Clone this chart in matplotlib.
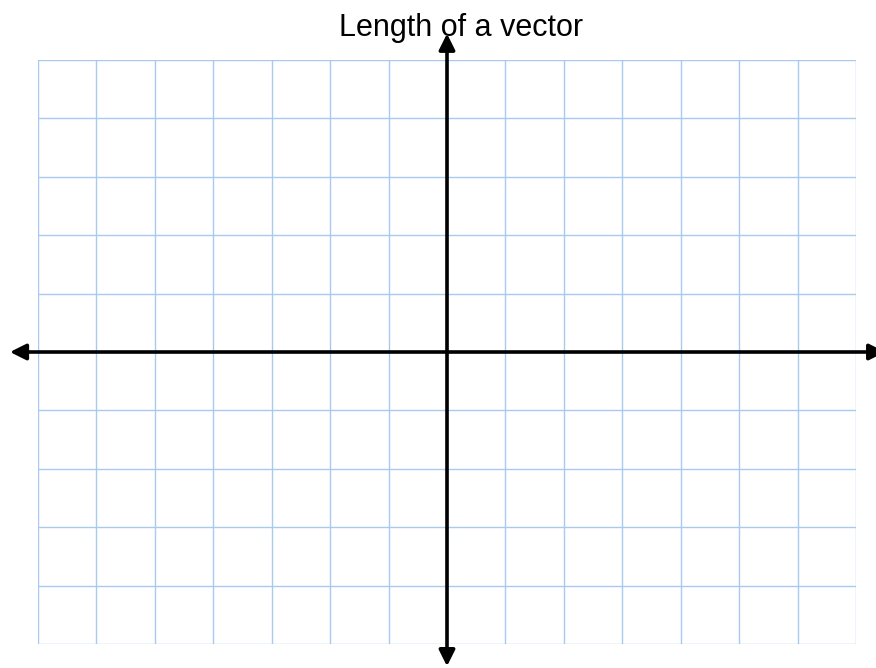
import numpy as np
import matplotlib.pyplot as plt

# grid extents (units)
x_grid = np.arange(-7, 8)
y_grid = np.arange(-5, 6)
# axis arrow extents
x_axis = [-7.48, 7.5]
y_axis = [-5.38, 5.45]
title = 'Length of a vector'

plt.rcParams['font.family'] = ['Liberation Sans', 'DejaVu Sans']

W, H = 876, 668
fig = plt.figure(figsize=(W / 100, H / 100), dpi=100)
ax = fig.add_axes([38 / W, (H - 644) / H, (856 - 38) / W, (644 - 60) / H])
ax.set_xlim(x_grid[0], x_grid[-1])
ax.set_ylim(y_grid[0], y_grid[-1])
ax.axis('off')

grid_col = '#a9c9f0'
for x in x_grid:
    ax.plot([x, x], [y_grid[0], y_grid[-1]], color=grid_col, lw=1, zorder=1)
for y in y_grid:
    ax.plot([x_grid[0], x_grid[-1]], [y, y], color=grid_col, lw=1, zorder=1)

arrow = dict(arrowstyle='<|-|>', lw=2.6, color='black', mutation_scale=24,
             shrinkA=0, shrinkB=0)
ax.annotate('', xy=(x_axis[0], 0), xytext=(x_axis[1], 0), arrowprops=arrow,
            annotation_clip=False, zorder=3)
ax.annotate('', xy=(0, y_axis[0]), xytext=(0, y_axis[1]), arrowprops=arrow,
            annotation_clip=False, zorder=3)

fig.text(461 / W, 1 - 28 / H, title, ha='center', va='center', fontsize=22)

fig.savefig('out.png', dpi=100)
